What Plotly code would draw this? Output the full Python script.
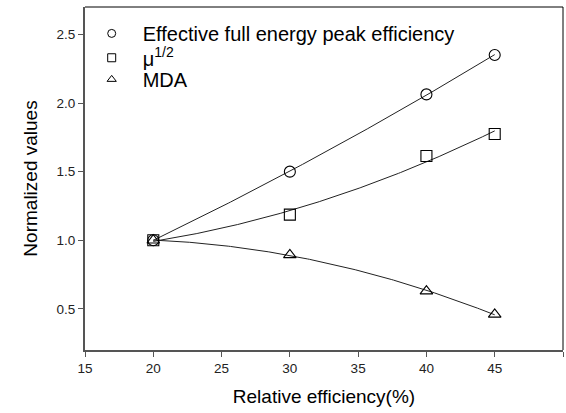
import numpy as np
import plotly.graph_objects as go

# Relative efficiency of detector (%)
rel_eff = [20, 30, 40, 45]

# Normalized quantities
eff_peak = [1.00, 1.50, 2.063, 2.35]
mu_sqrt = [1.00, 1.187, 1.614, 1.774]
mda = [1.00, 0.893, 0.629, 0.46]

x_ticks = [15, 20, 25, 30, 35, 40, 45, 50]
y_ticks = [0.5, 1.0, 1.5, 2.0, 2.5]

series = [
    ("Effective full energy peak efficiency", eff_peak, "circle-open", "legend"),
    ("μ<sup>1/2</sup>", mu_sqrt, "square-open", "legend2"),
    ("MDA", mda, "triangle-up-open", "legend3"),
]

fig = go.Figure()

# quadratic regression curves through each series
xf = np.linspace(min(rel_eff), max(rel_eff), 200)
for name, vals, sym, lg in series:
    coef = np.polyfit(rel_eff, vals, 2)
    fig.add_trace(go.Scatter(
        x=xf, y=np.polyval(coef, xf), mode="lines",
        line=dict(color="#222222", width=1), showlegend=False, hoverinfo="skip"))

for name, vals, sym, lg in series:
    fig.add_trace(go.Scatter(
        x=rel_eff, y=vals, mode="markers", name=name, showlegend=False,
        marker=dict(symbol=sym, size=11, color="black", line=dict(width=1.1, color="black")),
    ))
    # smaller symbol for the key
    fig.add_trace(go.Scatter(
        x=[None], y=[None], mode="markers", name=name, legend=lg,
        marker=dict(symbol=sym, size=8, color="black", line=dict(width=1, color="black")),
    ))

legend_rows = {"legend": 0.923, "legend2": 0.852, "legend3": 0.789}
legend_style = dict(x=-0.009, xanchor="left", yanchor="middle", bgcolor="rgba(0,0,0,0)",
                    font=dict(size=20), itemwidth=52)

fig.update_layout(
    width=566, height=413,
    margin=dict(l=85, r=3, t=7, b=63),
    paper_bgcolor="white", plot_bgcolor="white",
    font=dict(family="Liberation Sans, Arial, sans-serif", color="black"),
    showlegend=True,
    legend=dict(y=legend_rows["legend"], **legend_style),
    legend2=dict(y=legend_rows["legend2"], **legend_style),
    legend3=dict(y=legend_rows["legend3"], **legend_style),
    xaxis=dict(range=[15, 50], tickvals=x_ticks, ticks="outside", ticklen=5,
               tickcolor="#555555", tickwidth=1,
               showline=True, linecolor="#555555", linewidth=2, mirror=False,
               showgrid=False, zeroline=False, tickfont=dict(size=13.5, color="#222222"),
               title=dict(text="Relative efficiency(%)", font=dict(size=19), standoff=14)),
    yaxis=dict(range=[0.2, 2.7], tickvals=y_ticks, tickformat=".1f", ticks="outside", ticklen=5,
               tickcolor="#555555", tickwidth=1,
               showline=True, linecolor="#555555", linewidth=2, mirror=False,
               showgrid=False, zeroline=False, tickfont=dict(size=13.5, color="#222222"),
               title=dict(text="Normalized values", font=dict(size=19), standoff=14)),
    shapes=[
        dict(type="line", xref="paper", yref="paper", x0=0, x1=1, y0=1, y1=1,
             line=dict(color="black", width=1)),
        dict(type="line", xref="paper", yref="paper", x0=1, x1=1, y0=0, y1=1,
             line=dict(color="black", width=1)),
    ],
)

fig.write_html("out.html")
